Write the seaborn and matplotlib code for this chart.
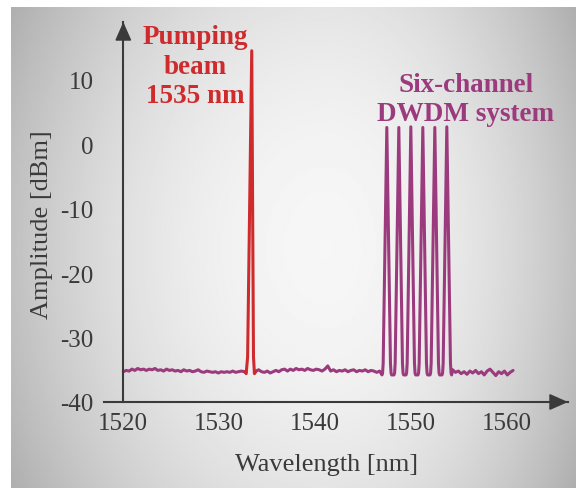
import numpy as np
import pandas as pd
import matplotlib
matplotlib.use("Agg")
import matplotlib.pyplot as plt
import seaborn as sns

# ---------------- data ----------------
# ASE noise floor, sampled every 0.3 nm
noise1_start = 1520.0
noise1_db = [-35.3, -35.1, -35.2, -34.9, -35.1, -34.8, -35.0, -34.9, -35.1, -34.9,
             -35.0, -34.8, -35.1, -35.0, -35.2, -34.9, -35.1, -35.0, -35.2, -35.1,
             -35.3, -35.0, -35.2, -35.1, -35.3, -35.2, -35.0, -35.3, -35.4, -35.2,
             -35.3, -35.4, -35.3, -35.5, -35.3, -35.4, -35.3, -35.4, -35.2, -35.4,
             -35.3, -35.2, -35.3]
noise2_start = 1533.8
noise2_db = [-35.2, -35.0, -35.3, -35.4, -35.2, -35.5, -35.3, -35.1, -35.3, -35.0,
             -34.9, -35.2, -34.9, -35.1, -34.8, -35.0, -34.9, -35.1, -34.8, -35.0,
             -35.1, -34.9, -35.0, -35.2, -34.9, -34.4, -35.2, -35.0, -35.3, -35.1,
             -35.2, -35.0, -35.3, -35.1, -35.0, -35.3, -35.1, -35.2, -35.0, -35.3,
             -35.1, -35.2, -35.4, -35.2]
noise3_start = 1554.3
noise3_db = [-35.0, -35.4, -35.2, -35.6, -35.3, -35.7, -35.2, -35.5, -35.1, -35.6,
             -35.3, -35.8, -35.2, -34.9, -35.4, -35.9, -35.3, -35.6, -35.2, -35.8,
             -35.4, -35.1]
noise_step = 0.3

# six DWDM channels
channel_nm = [1547.45, 1548.70, 1549.95, 1551.20, 1552.45, 1553.70]
channel_peak_db = [2.6, 2.6, 2.7, 2.6, 2.6, 2.7]
# channel profile: offsets from centre and levels (None = peak)
profile_dnm = [-0.50, -0.44, -0.38, 0.0, 0.38, 0.44, 0.50]
profile_db = [-35.8, -35.5, -34.0, None, -34.0, -35.5, -35.8]

# pump at ~1533.4 nm
pump_nm = [1532.65, 1532.80, 1532.95, 1533.38, 1533.56, 1533.66, 1533.80]
pump_db = [-35.3, -35.6, -33.0, 14.5, -33.0, -35.6, -35.3]

x_ticks = [1520, 1530, 1540, 1550, 1560]
y_ticks = [10, 0, -10, -20, -30, -40]

# ---------------- build tables ----------------
wl1 = noise1_start + noise_step * np.arange(len(noise1_db))
part1 = pd.DataFrame({"wavelength": wl1, "amplitude": noise1_db, "segment": 0})

wl2 = noise2_start + noise_step * np.arange(len(noise2_db))
ch_wl, ch_db = [], []
for c, p in zip(channel_nm, channel_peak_db):
    for d, v in zip(profile_dnm, profile_db):
        ch_wl.append(c + d)
        ch_db.append(p if v is None else v)
wl3 = noise3_start + noise_step * np.arange(len(noise3_db))
part2 = pd.DataFrame({
    "wavelength": np.concatenate([wl2, ch_wl, wl3]),
    "amplitude": np.concatenate([noise2_db, ch_db, noise3_db]),
    "segment": 1,
})
signal = pd.concat([part1, part2], ignore_index=True)
pump = pd.DataFrame({"wavelength": pump_nm, "amplitude": pump_db, "segment": 2})

# ---------------- style ----------------
sns.set_theme(style="white")
plt.rcParams["font.family"] = ["Liberation Serif", "DejaVu Serif"]

RED = "#cf2a2c"
PURPLE = "#9b3b7d"
AXC = "#3a3a3a"

W, H = 576, 489
fig = plt.figure(figsize=(W / 100, H / 100), dpi=100, facecolor="white")

# gradient background panel
bg = fig.add_axes([11 / W, 0, 1 - 11 / W, 1 - 8 / H], zorder=-5)
gx = np.linspace(0, 1, 400)
gy = np.linspace(0, 1, 300)
GX, GY = np.meshgrid(gx, gy)
cx = 0.56
dxn = np.where(GX < cx, (cx - GX) / cx, (GX - cx) / (1 - cx))
dyn = np.abs(GY - 0.5) / 0.5
grad = 0.965 - 0.21 * dxn ** 2.0 - 0.07 * dyn ** 2
bg.imshow(grad, cmap="gray", vmin=0, vmax=1, aspect="auto", extent=[0, 1, 0, 1],
          interpolation="bilinear")
bg.axis("off")

# main axes in pixel geometry
left_px, right_px, bottom_px, top_px = 104, 568, 403, 23
ax = fig.add_axes([left_px / W, 1 - bottom_px / H,
                   (right_px - left_px) / W, (bottom_px - top_px) / H])
ax.set_facecolor("none")

ppn = 9.6     # px per nm
ppd = 6.44    # px per dB
ax.set_xlim(1520 - (123.3 - left_px) / ppn, 1520 + (right_px - 123.3) / ppn)
ax.set_ylim(-40, 10 + (80.7 - top_px) / ppd)

sns.lineplot(data=signal, x="wavelength", y="amplitude", units="segment",
             estimator=None, sort=False, color=PURPLE, lw=2.2, ax=ax,
             solid_joinstyle="round")
sns.lineplot(data=pump, x="wavelength", y="amplitude", units="segment",
             estimator=None, sort=False, color=RED, lw=2.2, ax=ax,
             solid_joinstyle="round")

# axes lines
for s in ["top", "right"]:
    ax.spines[s].set_visible(False)
ax.spines["left"].set_position(("data", 1520))
for s in ["left", "bottom"]:
    ax.spines[s].set_color(AXC)
    ax.spines[s].set_linewidth(1.5)

ax.set_xticks(x_ticks)
ax.set_yticks(y_ticks)
ax.set_xticklabels([str(t) for t in x_ticks])
ax.set_yticklabels([str(t) for t in y_ticks])
ax.tick_params(axis="x", direction="in", length=13.5, width=1.4, color=AXC,
               labelsize=18, labelcolor=AXC, pad=7)
ax.tick_params(axis="y", direction="out", length=13, width=1.4, color=AXC,
               labelsize=18, labelcolor=AXC, pad=8.5)

# arrow heads
arrow_kw = dict(arrowstyle="-|>,head_length=0.95,head_width=0.42", mutation_scale=12,
                color=AXC, lw=1.2, shrinkA=0, shrinkB=0)
ax.annotate("", xy=(1, 0), xycoords="axes fraction", xytext=(0.96, 0),
            textcoords="axes fraction", arrowprops=arrow_kw, annotation_clip=False)
ax.annotate("", xy=(1520, 1), xycoords=("data", "axes fraction"),
            xytext=(1520, 0.95), textcoords=("data", "axes fraction"),
            arrowprops=arrow_kw, annotation_clip=False)

ax.set_xlabel("Wavelength [nm]", fontsize=19, color=AXC)
ax.set_ylabel("Amplitude [dBm]", fontsize=19, color=AXC)
ax.xaxis.label.set(ha="center", va="center")
ax.yaxis.label.set(ha="center", va="center", rotation_mode="default")
ax.xaxis.set_label_coords((327 - left_px) / (right_px - left_px),
                          (bottom_px - 465) / (bottom_px - top_px))
ax.yaxis.set_label_coords((42 - left_px) / (right_px - left_px),
                          (bottom_px - 225) / (bottom_px - top_px))

ax.text(1520 + (195 - 123.3) / ppn, 10 + (80.7 - 67) / ppd,
        "Pumping\nbeam\n1535 nm", ha="center", va="center", color=RED,
        fontsize=19.5, fontweight="bold", linespacing=1.24)
ax.text(1520 + (466 - 123.3) / ppn, 10 + (80.7 - 100) / ppd,
        "Six-channel\nDWDM system", ha="center", va="center", color=PURPLE,
        fontsize=19.5, fontweight="bold", linespacing=1.24)

fig.savefig("out.png", dpi=100, facecolor="white")
